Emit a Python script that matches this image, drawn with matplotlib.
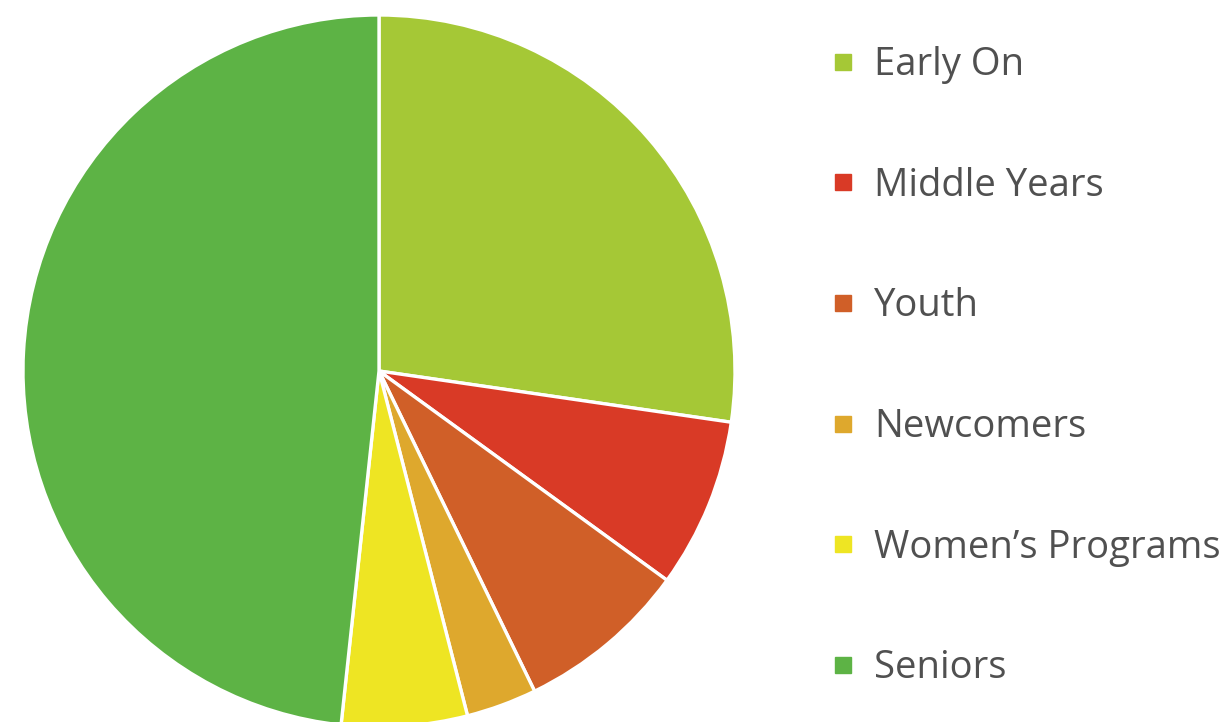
import matplotlib.pyplot as plt
from matplotlib.lines import Line2D

labels = ["Early On", "Middle Years", "Youth", "Newcomers", "Women\u2019s Programs", "Seniors"]
shares = [27.3, 7.7, 7.8, 3.2, 5.7, 48.3]
colors = ["#A5C836", "#D93A26", "#D05F28", "#DEA82D", "#EEE523", "#5DB345"]


def main():
    plt.rcParams["font.family"] = ["Open Sans", "DejaVu Sans"]
    W, H = 1231, 722
    fig = plt.figure(figsize=(W / 100, H / 100), dpi=100)

    # pie centre (379, 371) px, radius 356 px
    cx, cy, r = 379, 371, 356
    ax = fig.add_axes([(cx - r) / W, (H - cy - r) / H, 2 * r / W, 2 * r / H])
    ax.pie(
        shares,
        colors=colors,
        startangle=90,
        counterclock=False,
        radius=1,
        wedgeprops=dict(edgecolor="white", linewidth=2.4),
    )
    ax.set_xlim(-1.0, 1.0)
    ax.set_ylim(-1.0, 1.0)
    ax.set_aspect("equal")
    ax.axis("off")

    handles = [
        Line2D([], [], marker="s", linestyle="none", markersize=12,
               markerfacecolor=c, markeredgecolor=c)
        for c in colors
    ]
    fig.legend(
        handles,
        labels,
        loc="upper left",
        bbox_to_anchor=(832 / W, 1 - 46 / H),
        frameon=False,
        fontsize=27.5,
        labelcolor="#505050",
        labelspacing=2.165,
        handlelength=0.6,
        handletextpad=0.51,
        borderpad=0,
        borderaxespad=0,
    )

    fig.savefig("out.png", dpi=100)


if __name__ == "__main__":
    main()
